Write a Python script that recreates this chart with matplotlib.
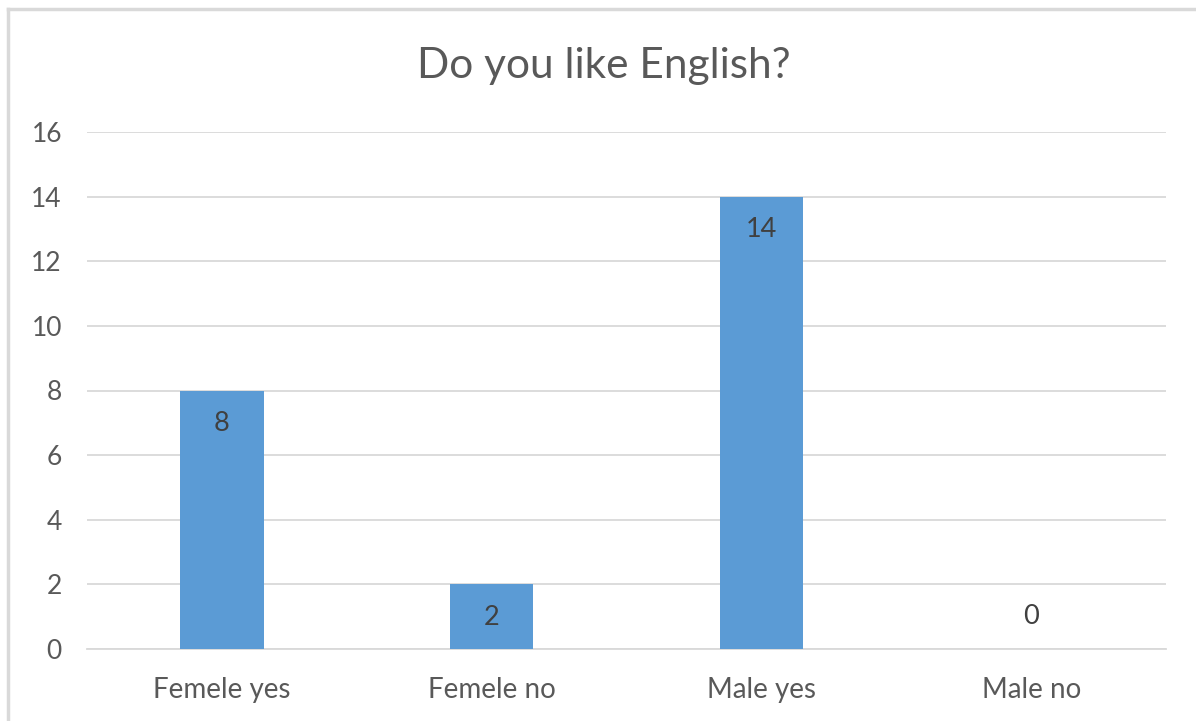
import numpy as np
import matplotlib.pyplot as plt
from matplotlib.lines import Line2D

categories = ['Femele yes', 'Femele no', 'Male yes', 'Male no']
values = [8, 2, 14, 0]
yticks = [0, 2, 4, 6, 8, 10, 12, 14, 16]

text_col = '#595959'
grid_col = '#d9d9d9'
bar_col = '#5b9bd5'

plt.rcParams['font.family'] = ['Lato', 'DejaVu Sans']

fig = plt.figure(figsize=(11.96, 7.21), dpi=100)
ax = fig.add_axes([87 / 1196, 1 - 649 / 721, (1166 - 87) / 1196, (649 - 132) / 721])

x = np.arange(len(categories))
ax.bar(x, values, width=0.31, color=bar_col, zorder=3)

# value labels, inside end like excel
for xi, v in zip(x, values):
    off = -33 if v > 0 else 32
    ax.annotate(str(v), (xi, v), xytext=(0, off), textcoords='offset pixels',
                ha='center', va='center', fontsize=19.5, color='#404040', zorder=4)

ax.set_xlim(-0.5, len(categories) - 0.5)
ax.set_ylim(0, 16)
ax.set_yticks(yticks)
ax.set_xticks(x)
ax.set_xticklabels(categories)
ax.tick_params(axis='y', length=0, pad=18, labelsize=19, labelcolor=text_col)
ax.tick_params(axis='x', length=0, pad=20, labelsize=20, labelcolor=text_col)
ax.grid(axis='y', color=grid_col, linewidth=1.3, zorder=0)
for s in ['top', 'right', 'left']:
    ax.spines[s].set_visible(False)
ax.spines['bottom'].set_color(grid_col)
ax.spines['bottom'].set_linewidth(1.3)

fig.text(604 / 1196, 1 - 78 / 721, 'Do you like English?', ha='center', va='baseline',
         fontsize=30.5, color=text_col)

# chart border (top and left visible only)
fig.add_artist(Line2D([8 / 1196, 1], [1 - 9 / 721, 1 - 9 / 721], color=grid_col, linewidth=2.5))
fig.add_artist(Line2D([8 / 1196, 8 / 1196], [0, 1 - 9 / 721], color=grid_col, linewidth=2.5))

fig.savefig('out.png', dpi=100)
